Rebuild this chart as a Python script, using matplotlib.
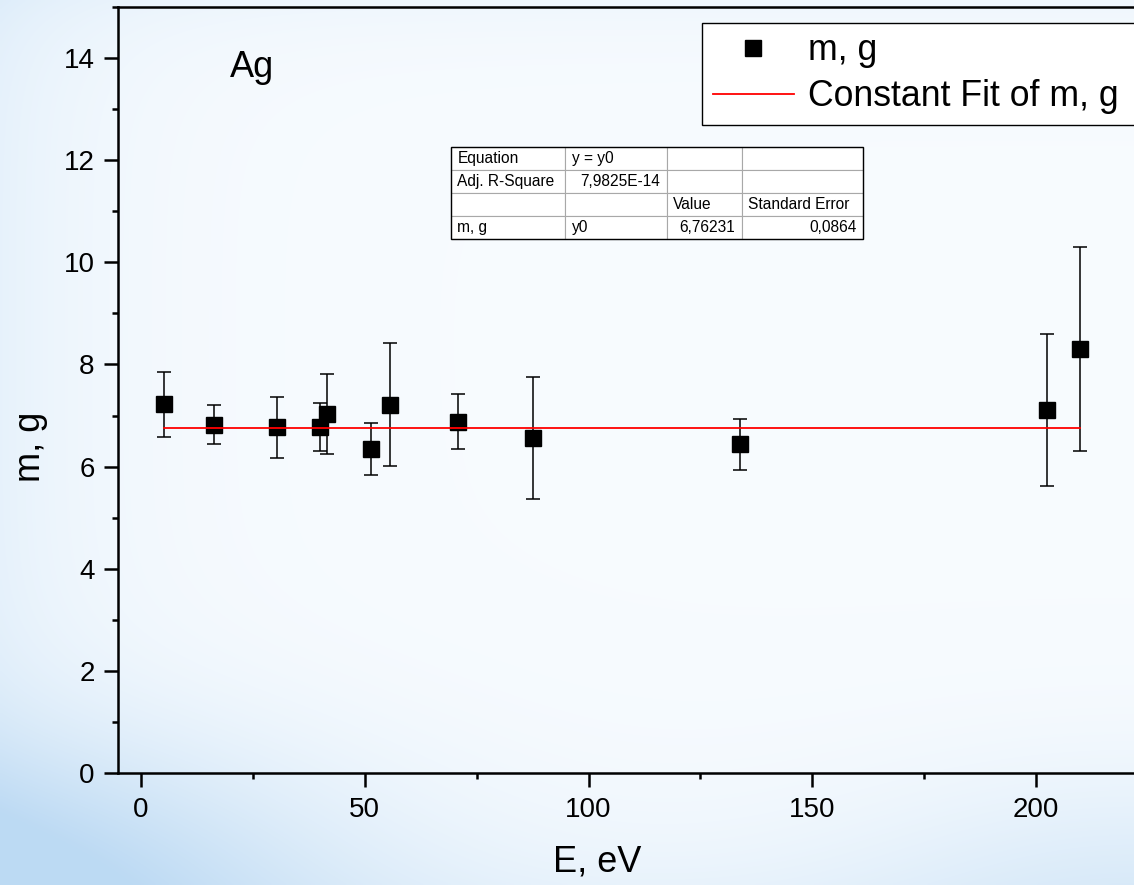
import numpy as np
import matplotlib.pyplot as plt
from matplotlib.patches import Rectangle
from matplotlib.ticker import MultipleLocator

plt.rcParams['font.family'] = ['Liberation Sans', 'DejaVu Sans']

# data
E = [5.1, 16.3, 30.3, 40.0, 41.5, 51.4, 55.7, 70.8, 87.6, 133.9, 202.5, 209.7]
m = [7.22, 6.82, 6.77, 6.78, 7.03, 6.35, 7.21, 6.88, 6.56, 6.44, 7.11, 8.30]
m_err = [0.63, 0.38, 0.60, 0.47, 0.79, 0.51, 1.20, 0.54, 1.20, 0.50, 1.49, 2.00]
y0_fit = 6.76231

table_cells = [
    ["Equation", "y = y0", "", ""],
    ["Adj. R-Square", "7,9825E-14", "", ""],
    ["", "", "Value", "Standard Error"],
    ["m, g", "y0", "6,76231", "0,0864"],
]
table_align = [
    ["left", "left", "left", "left"],
    ["left", "right", "left", "left"],
    ["left", "left", "left", "left"],
    ["left", "left", "right", "right"],
]

W, H = 1134, 885
fig = plt.figure(figsize=(W / 100, H / 100), dpi=100)

# background gradient: near white in the middle, light blue towards the edges
bg = fig.add_axes([0, 0, 1, 1], zorder=-10)
gx, gy = np.meshgrid(np.linspace(0, 1, 400), np.linspace(1, 0, 320))
t = (0.28 * np.exp(-gx / 0.1)
     + 0.22 * np.exp(-gy / 0.08)
     + 0.14 * np.exp(-(1 - gy) / 0.05)
     + 0.8 * np.exp(-((gx / 0.3) ** 2 + (gy / 0.17) ** 2))
     + 0.3 * np.exp(-(((1 - gx) / 0.25) ** 2 + (gy / 0.14) ** 2)))
t = np.clip(t, 0, 1)
c_light = np.array([0.97, 0.985, 0.998])
c_blue = np.array([0.74, 0.855, 0.955])
img = c_light[None, None, :] * (1 - t[..., None]) + c_blue[None, None, :] * t[..., None]
bg.imshow(img, extent=[0, 1, 0, 1], aspect='auto', interpolation='bilinear')
bg.axis('off')

# main axes, placed in pixels (right side runs past the figure edge)
L, R, T, B = 118.3, 1148, 6.7, 773.3
ax = fig.add_axes([L / W, (H - B) / H, (R - L) / W, (B - T) / H])
ax.set_facecolor('none')

ax.errorbar(E, m, yerr=m_err, fmt='none', ecolor='black', elinewidth=1.1,
            capsize=5, capthick=1.1, zorder=2)
ax.plot(E, m, 's', color='black', ms=12, label='m, g', zorder=3)
ax.plot([min(E), max(E)], [y0_fit, y0_fit], color='red', lw=1.3,
        label='Constant Fit of m, g', zorder=4)

ax.set_xlim(-5.07, 225)
ax.set_ylim(0, 15)
ax.xaxis.set_major_locator(MultipleLocator(50))
ax.xaxis.set_minor_locator(MultipleLocator(25))
ax.yaxis.set_major_locator(MultipleLocator(2))
ax.yaxis.set_minor_locator(MultipleLocator(1))
ax.tick_params(which='major', direction='out', length=10, width=1.8,
               labelsize=20, pad=7)
ax.tick_params(which='minor', direction='out', length=4.3, width=1.8)
for s in ax.spines.values():
    s.set_linewidth(1.8)

ax.set_xlabel('E, eV', fontsize=26)
ax.set_ylabel('m, g', fontsize=26)
ax.xaxis.label.set_va('center')
ax.yaxis.label.set_va('center')
ax.xaxis.set_label_coords((597 - L) / (R - L), (B - 862) / (B - T))
ax.yaxis.set_label_coords((30 - L) / (R - L), (B - 447) / (B - T))

ax.text((230 - L) / (R - L), (B - 77) / (B - T), 'Ag', fontsize=26,
        transform=ax.transAxes, va='baseline', ha='left')

# legend box, cut off at the right edge like the original
leg = ax.legend(loc='upper left',
                bbox_to_anchor=(702 / W, (H - 116) / H, (1170 - 702) / W, (116 - 22.7) / H),
                bbox_transform=fig.transFigure, mode='expand', borderaxespad=0,
                fontsize=25.7, frameon=True, fancybox=False, framealpha=1,
                edgecolor='black', borderpad=0.3, labelspacing=0.3,
                handlelength=2.27, handletextpad=0.4, markerscale=1.0)
leg.get_frame().set_linewidth(1.0)

# fit results table
col_px = [450.7, 565, 666.7, 741.7, 863.3]
tab_top, tab_bot = 146.7, 239.3
col_w = np.diff(col_px)
tx0 = (col_px[0] - L) / (R - L)
tw = (col_px[-1] - col_px[0]) / (R - L)
ty0 = (B - tab_bot) / (B - T)
th = (tab_bot - tab_top) / (B - T)
tbl = ax.table(cellText=table_cells, colWidths=list(col_w / col_w.sum()),
               bbox=[tx0, ty0, tw, th], cellLoc='left')
tbl.auto_set_font_size(False)
tbl.set_fontsize(11.2)
tbl.set_zorder(5)
for (i, j), cell in tbl.get_celld().items():
    cell.set_edgecolor('#a8a8a8')
    cell.set_linewidth(0.8)
    cell.set_facecolor('white')
    cell._loc = table_align[i][j]
    cell.get_text().set_horizontalalignment(table_align[i][j])
    cell.PAD = 6.6 / col_w[j]
ax.add_patch(Rectangle((tx0, ty0), tw, th, transform=ax.transAxes, fill=False,
                       edgecolor='black', lw=1.0, zorder=6, clip_on=False))

fig.savefig('out.png', dpi=100)
